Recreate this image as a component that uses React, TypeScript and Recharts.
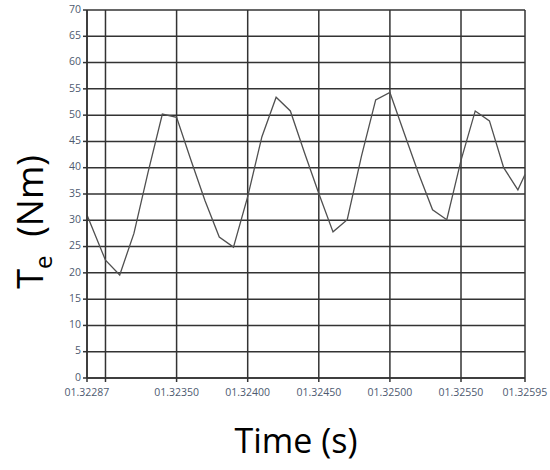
import { CartesianGrid, Line, LineChart, XAxis, YAxis } from "recharts";

// sample times (s) and electromagnetic torque (Nm)
const times = [
  1.32287, 1.323, 1.3231, 1.3232, 1.3233, 1.3234, 1.3235, 1.3236, 1.3237,
  1.3238, 1.3239, 1.324, 1.3241, 1.3242, 1.3243, 1.3244, 1.3245, 1.3246,
  1.3247, 1.3248, 1.3249, 1.325, 1.3251, 1.3252, 1.3253, 1.3254, 1.3255,
  1.3256, 1.3257, 1.3258, 1.3259, 1.32595,
];

const torque = [
  31.0, 22.4, 19.6, 27.5, 39.2, 50.2, 49.6, 41.5, 33.7, 26.8, 24.9, 34.5,
  45.9, 53.4, 50.8, 42.8, 35.1, 27.8, 30.1, 42.2, 52.9, 54.3, 46.6, 39.0,
  32.0, 30.1, 41.4, 50.8, 48.9, 40.0, 35.8, 38.7,
];

const xTicks = [
  1.32287, 1.323, 1.3235, 1.324, 1.3245, 1.325, 1.3255, 1.32595,
];
const yTicks = [0, 5, 10, 15, 20, 25, 30, 35, 40, 45, 50, 55, 60, 65, 70];

const data = times.map((t, i) => ({ t, te: torque[i] }));

const tickStyle = { fontSize: 10.5, fill: "#4e5a70", fontFamily: "Open Sans" };

function formatTime(v: number): string {
  // the 1.32300 gridline has a tick mark but no label
  if (Math.abs(v - 1.323) < 1e-9) return "";
  return "0" + v.toFixed(5);
}

export default function App() {
  return (
    <div
      style={{
        position: "absolute",
        left: 0,
        top: 0,
        width: 550,
        height: 470,
        background: "#fff",
        fontFamily: "Open Sans",
      }}
    >
      <LineChart
        width={550}
        height={470}
        data={data}
        margin={{ top: 10, right: 25, left: 0, bottom: 62 }}
      >
        <CartesianGrid stroke="#333" strokeWidth={1.5} />
        <XAxis
          dataKey="t"
          type="number"
          domain={[1.32287, 1.32595]}
          ticks={xTicks}
          tickFormatter={formatTime}
          interval={0}
          height={30}
          tick={{ ...tickStyle, dy: 5 }}
          tickSize={4}
          stroke="#333"
          strokeWidth={1.5}
        />
        <YAxis
          type="number"
          domain={[0, 70]}
          ticks={yTicks}
          interval={0}
          width={87}
          tick={{ ...tickStyle, dy: -1 }}
          tickSize={4}
          stroke="#333"
          strokeWidth={1.5}
        />
        <Line
          type="linear"
          dataKey="te"
          stroke="#505050"
          strokeWidth={1.3}
          dot={false}
          isAnimationActive={false}
        />
      </LineChart>

      {/* axis titles */}
      <div
        style={{
          position: "absolute",
          left: 32,
          top: 222,
          transform: "translate(-50%, -50%) rotate(-90deg)",
          whiteSpace: "nowrap",
          fontSize: 36,
          color: "#000",
        }}
      >
        T<sub style={{ fontSize: 24 }}>e</sub>&nbsp; (Nm)
      </div>
      <div
        style={{
          position: "absolute",
          left: 296,
          top: 440,
          transform: "translate(-50%, -50%)",
          whiteSpace: "nowrap",
          fontSize: 34,
          color: "#000",
        }}
      >
        Time (s)
      </div>
    </div>
  );
}
